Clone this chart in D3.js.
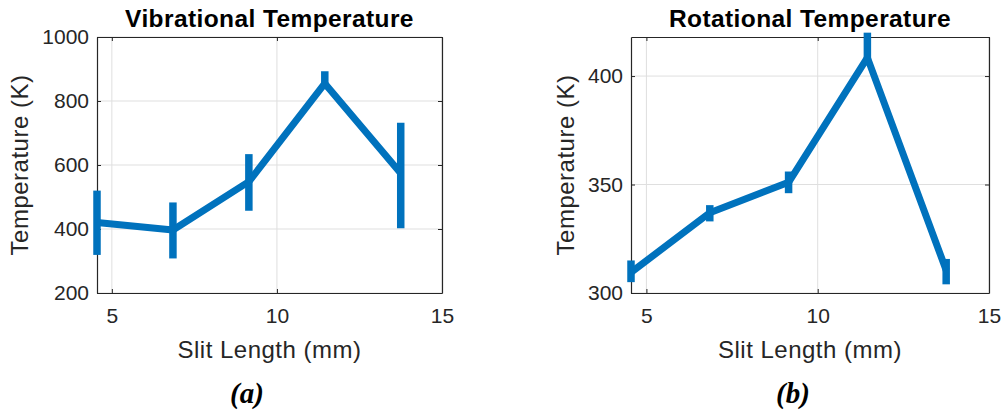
<!DOCTYPE html>
<html>
<head>
<meta charset="utf-8">
<script src="https://cdn.jsdelivr.net/npm/d3@7"></script>
<style>
  html, body { margin: 0; padding: 0; background: #fff; }
  svg { display: block; }
</style>
</head>
<body>
<svg id="chart" width="1005" height="414"></svg>
<script>
// ---- data ----
const slitLength = [4.55, 6.85, 9.15, 11.45, 13.75];
const xTicks = [5, 10, 15];

const vibTemp    = [420, 397, 548, 855, 574];
const vibErrLow  = [101, 89, 91, 18, 172];
const vibErrHigh = [100, 86, 86, 38, 158];
const vibYTicks  = [200, 400, 600, 800, 1000];

const rotTemp    = [309.5, 337, 351, 408.5, 310.5];
const rotErrLow  = [4.5, 4, 5, 3, 6.5];
const rotErrHigh = [5.5, 3.5, 5, 11.5, 5.2];
const rotYTicks  = [300, 350, 400];

const titles   = ["Vibrational Temperature", "Rotational Temperature"];
const captions = ["(a)", "(b)"];
const xLabel = "Slit Length (mm)";
const yLabel = "Temperature (K)";

// ---- layout ----
const panels = [
  { left: 97, right: 442, top: 37, bottom: 293, xDomain: [4.55, 15], yDomain: [200, 1000],
    y: vibTemp, lo: vibErrLow, hi: vibErrHigh, yTicks: vibYTicks,
    title: titles[0], caption: captions[0], captionX: 247, yLabelX: 28 },
  { left: 631, right: 989, top: 37, bottom: 293, xDomain: [4.55, 15], yDomain: [300, 418],
    y: rotTemp, lo: rotErrLow, hi: rotErrHigh, yTicks: rotYTicks,
    title: titles[1], caption: captions[1], captionX: 793, yLabelX: 574 }
];

const svg = d3.select("#chart");
svg.append("rect").attr("width", 1005).attr("height", 414).attr("fill", "#fff");

const axisColor = "#262626";
const gridColor = "#dfdfdf";
const lineColor = "#0072BD";
const sans = "'Liberation Sans', Arial, Helvetica, sans-serif";
const fmt = d3.format("d");

panels.forEach(p => {
  const x = d3.scaleLinear().domain(p.xDomain).range([p.left, p.right]);
  const y = d3.scaleLinear().domain(p.yDomain).range([p.bottom, p.top]);
  const g = svg.append("g");

  // grid
  g.append("g").selectAll("line").data(xTicks).join("line")
    .attr("x1", d => x(d)).attr("x2", d => x(d))
    .attr("y1", p.top).attr("y2", p.bottom)
    .attr("stroke", gridColor).attr("stroke-width", 1);
  g.append("g").selectAll("line").data(p.yTicks).join("line")
    .attr("x1", p.left).attr("x2", p.right)
    .attr("y1", d => y(d)).attr("y2", d => y(d))
    .attr("stroke", gridColor).attr("stroke-width", 1);

  // axes
  const styleAxis = sel => {
    sel.selectAll("path.domain").attr("stroke", axisColor).attr("stroke-width", 1.2);
    sel.selectAll(".tick line").attr("stroke", axisColor).attr("stroke-width", 1);
    sel.selectAll("text").attr("fill", axisColor).style("font-family", sans).style("font-size", "21px");
  };
  g.append("g").attr("transform", `translate(0,${p.bottom})`)
    .call(d3.axisBottom(x).tickValues(xTicks).tickFormat(fmt).tickSizeInner(-4).tickSizeOuter(0).tickPadding(15))
    .call(styleAxis);
  g.append("g").attr("transform", `translate(0,${p.top})`)
    .call(d3.axisTop(x).tickValues(xTicks).tickSizeInner(-4).tickSizeOuter(0).tickFormat(""))
    .call(styleAxis);
  g.append("g").attr("transform", `translate(${p.left},0)`)
    .call(d3.axisLeft(y).tickValues(p.yTicks).tickFormat(fmt).tickSizeInner(-4).tickSizeOuter(0).tickPadding(8))
    .call(styleAxis);
  g.append("g").attr("transform", `translate(${p.right},0)`)
    .call(d3.axisRight(y).tickValues(p.yTicks).tickSizeInner(-4).tickSizeOuter(0).tickFormat(""))
    .call(styleAxis);

  // error bars
  const pts = slitLength.map((sx, i) => ({ x: sx, y: p.y[i], lo: p.lo[i], hi: p.hi[i] }));
  g.append("g").selectAll("line").data(pts).join("line")
    .attr("x1", d => x(d.x)).attr("x2", d => x(d.x))
    .attr("y1", d => y(d.y - d.lo)).attr("y2", d => y(d.y + d.hi))
    .attr("stroke", lineColor).attr("stroke-width", 7.5);

  // line
  g.append("path").datum(pts)
    .attr("d", d3.line().x(d => x(d.x)).y(d => y(d.y)))
    .attr("fill", "none").attr("stroke", lineColor)
    .attr("stroke-width", 7).attr("stroke-linejoin", "round");

  // title
  g.append("text").attr("x", (p.left + p.right) / 2).attr("y", 27)
    .attr("text-anchor", "middle").attr("fill", "#000")
    .style("font-family", sans).style("font-size", "24.5px").style("font-weight", "bold")
    .style("letter-spacing", "0.4px")
    .text(p.title);

  // x label
  g.append("text").attr("x", (p.left + p.right) / 2).attr("y", 358)
    .attr("text-anchor", "middle").attr("fill", axisColor)
    .style("font-family", sans).style("font-size", "24px").style("letter-spacing", "0.5px")
    .text(xLabel);

  // y label
  g.append("text")
    .attr("transform", `translate(${p.yLabelX},${(p.top + p.bottom) / 2}) rotate(-90)`)
    .attr("text-anchor", "middle").attr("fill", axisColor)
    .style("font-family", sans).style("font-size", "24px").style("letter-spacing", "0.5px")
    .text(yLabel);

  // caption
  g.append("text").attr("x", p.captionX).attr("y", 403)
    .attr("text-anchor", "middle").attr("fill", "#000")
    .style("font-family", "'Liberation Serif', 'Times New Roman', serif")
    .style("font-size", "29px").style("font-weight", "bold").style("font-style", "italic")
    .text(p.caption);
});
</script>
</body>
</html>
